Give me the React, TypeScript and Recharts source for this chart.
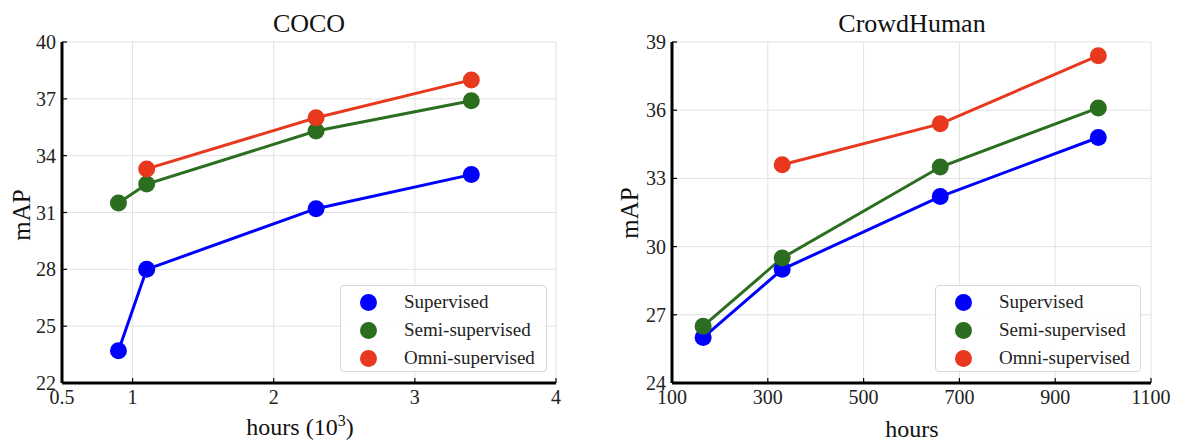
import React from "react";
import { CartesianGrid, Line, LineChart, XAxis, YAxis } from "recharts";

// COCO (hours in 10^3)
const cocoHours = [0.9, 1.1, 2.3, 3.4];
const cocoSupervised = [23.7, 28.0, 31.2, 33.0];
const cocoSemi = [31.5, 32.5, 35.3, 36.9];
const cocoOmni = [null, 33.3, 36.0, 38.0];
const cocoXTicks = [0.5, 1, 2, 3, 4];
const cocoYTicks = [22, 25, 28, 31, 34, 37, 40];

// CrowdHuman (hours)
const crowdHours = [165, 330, 660, 990];
const crowdSupervised = [26.0, 29.0, 32.2, 34.8];
const crowdSemi = [26.5, 29.5, 33.5, 36.1];
const crowdOmni = [null, 33.6, 35.4, 38.4];
const crowdXTicks = [100, 300, 500, 700, 900, 1100];
const crowdYTicks = [24, 27, 30, 33, 36, 39];

const SERIES = [
  { key: "sup", name: "Supervised", color: "#0000ff" },
  { key: "semi", name: "Semi-supervised", color: "#2b6e1f" },
  { key: "omni", name: "Omni-supervised", color: "#e8391e" },
];

const FONT = "Liberation Serif";

function buildRows(hours: number[], sup: number[], semi: number[], omni: (number | null)[]) {
  return hours.map((x, i) => ({ x, sup: sup[i], semi: semi[i], omni: omni[i] }));
}

const cocoRows = buildRows(cocoHours, cocoSupervised, cocoSemi, cocoOmni);
const crowdRows = buildRows(crowdHours, crowdSupervised, crowdSemi, crowdOmni);

const axisLine = { stroke: "#000", strokeWidth: 3 };
const tickLine = { stroke: "#000", strokeWidth: 1.2 };

const XTick = (props: any) => (
  <text
    x={props.x}
    y={props.y}
    dy="0.72em"
    textAnchor="middle"
    fontFamily={FONT}
    fontSize={20}
    fill="#222"
  >
    {props.payload.value}
  </text>
);

const YTick = (props: any) => (
  <text
    x={props.x}
    y={props.y}
    dy="0.35em"
    textAnchor="end"
    fontFamily={FONT}
    fontSize={20}
    fill="#222"
  >
    {props.payload.value}
  </text>
);

interface PanelProps {
  rows: any[];
  width: number;
  xDomain: [number, number];
  xTicks: number[];
  yDomain: [number, number];
  yTicks: number[];
  margin: { top: number; right: number; bottom: number; left: number };
}

function Panel({ rows, width, xDomain, xTicks, yDomain, yTicks, margin }: PanelProps) {
  return (
    <LineChart width={width} height={444} data={rows} margin={margin}>
      <CartesianGrid stroke="#e2e2e2" strokeWidth={1} />
      <XAxis
        dataKey="x"
        type="number"
        domain={xDomain}
        ticks={xTicks}
        interval={0}
        height={30}
        tick={XTick}
        axisLine={axisLine}
        tickLine={tickLine}
        tickSize={-5}
        tickMargin={12}
      />
      <YAxis
        type="number"
        domain={yDomain}
        ticks={yTicks}
        interval={0}
        width={40}
        tick={YTick}
        axisLine={axisLine}
        tickLine={tickLine}
        tickSize={-5}
        tickMargin={11}
      />
      {SERIES.map((s) => (
        <Line
          key={s.key}
          dataKey={s.key}
          name={s.name}
          stroke={s.color}
          strokeWidth={3}
          dot={{ r: 8.5, fill: s.color, stroke: s.color, strokeWidth: 0 }}
          activeDot={false}
          isAnimationActive={false}
        />
      ))}
    </LineChart>
  );
}

function LegendBox({ left, top, width }: { left: number; top: number; width: number }) {
  return (
    <div
      style={{
        position: "absolute",
        left,
        top,
        width,
        height: 87,
        boxSizing: "border-box",
        border: "1px solid #d8d8d8",
        borderRadius: 4,
        background: "rgba(255,255,255,0.85)",
        fontFamily: FONT,
        fontSize: 19,
        color: "#222",
      }}
    >
      {SERIES.map((s, i) => (
        <div key={s.key}>
          <div
            style={{
              position: "absolute",
              left: 19,
              top: 8 + i * 28,
              width: 17,
              height: 17,
              borderRadius: "50%",
              background: s.color,
            }}
          />
          <div
            style={{
              position: "absolute",
              left: 63,
              top: 4 + i * 28,
              lineHeight: "24px",
              whiteSpace: "nowrap",
              fontFamily: FONT,
            }}
          >
            {s.name}
          </div>
        </div>
      ))}
    </div>
  );
}

export default function App() {
  return (
    <div
      style={{
        position: "absolute",
        left: 0,
        top: 0,
        width: 1188,
        height: 444,
        background: "#fff",
        fontFamily: FONT,
      }}
    >
      <div style={{ position: "absolute", left: 0, top: 0 }}>
        <Panel
          rows={cocoRows}
          width={600}
          xDomain={[0.5, 4]}
          xTicks={cocoXTicks}
          yDomain={[22, 40]}
          yTicks={cocoYTicks}
          margin={{ top: 42, right: 44, bottom: 31, left: 22 }}
        />
      </div>
      <div style={{ position: "absolute", left: 600, top: 0 }}>
        <Panel
          rows={crowdRows}
          width={588}
          xDomain={[100, 1100]}
          xTicks={crowdXTicks}
          yDomain={[24, 39]}
          yTicks={crowdYTicks}
          margin={{ top: 42, right: 37, bottom: 31, left: 32 }}
        />
      </div>

      <svg
        width={1188}
        height={444}
        style={{ position: "absolute", left: 0, top: 0, pointerEvents: "none" }}
        fontFamily={FONT}
        fill="#111"
      >
        <text x={309} y={32} fontSize={26} textAnchor="middle">COCO</text>
        <text x={912} y={32} fontSize={26} textAnchor="middle">CrowdHuman</text>
        <text x={300} y={435} fontSize={24} textAnchor="middle">
          hours (10
          <tspan fontSize={16} dy={-9}>3</tspan>
          <tspan dy={9}>)</tspan>
        </text>
        <text x={912} y={437} fontSize={24} textAnchor="middle">hours</text>
        <text x={30} y={215} fontSize={25} textAnchor="middle" transform="rotate(-90 30 215)">mAP</text>
        <text x={638} y={213} fontSize={25} textAnchor="middle" transform="rotate(-90 638 213)">mAP</text>
      </svg>

      <LegendBox left={340} top={285} width={207} />
      <LegendBox left={935} top={285} width={206} />
    </div>
  );
}
